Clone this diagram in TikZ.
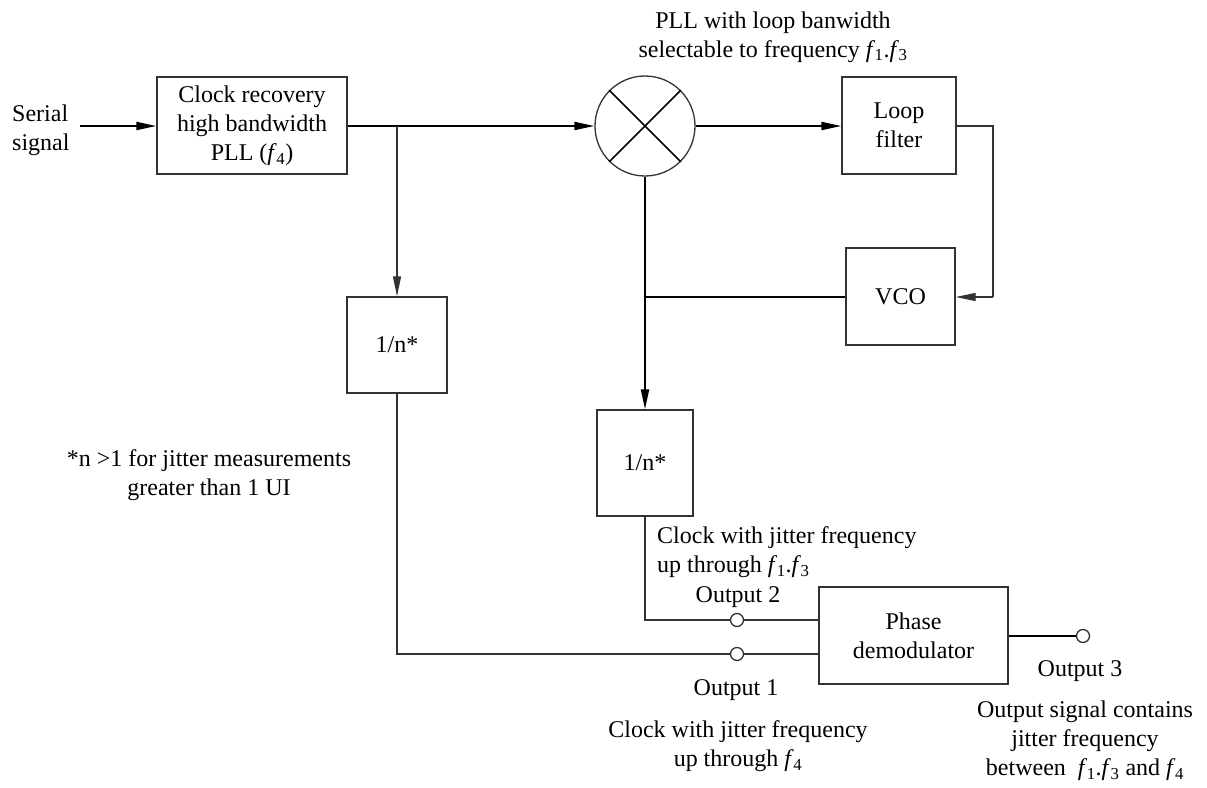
\documentclass[tikz,border=0pt]{standalone}
\usepackage{fontspec}
\setmainfont{Liberation Serif}
\usetikzlibrary{arrows.meta}
\newcommand{\fs}[1]{\textit{f}\kern-0.5pt\textsubscript{#1}}
\tikzset{
  base/.style={font=\fontsize{24}{29}\selectfont},
  blk/.style={draw=black!80, line width=1.3pt, rectangle, inner sep=0pt, base, align=center},
  txt/.style={inner sep=0pt, base, align=center},
  thk/.style={line width=2pt},
  thn/.style={line width=1.3pt, draw=black!80},
  arr/.style={-{Triangle[length=20pt,width=8pt]}},
  term/.style={circle, draw=black!80, line width=1.3pt, minimum size=13pt, inner sep=0pt, fill=white}
}
\begin{document}
\begin{tikzpicture}[x=1pt,y=-1pt]
\useasboundingbox (0,0) rectangle (1207,787);
% blocks
\node[blk, minimum width=190pt, minimum height=97pt] (cr) at (252,125.5) {Clock recovery\\high bandwidth\\PLL (\fs{4})};
\node[circle, draw=black!80, line width=1.3pt, minimum size=100pt, inner sep=0pt] (mx) at (645,126) {};
\draw[line width=1.5pt] (mx.45) -- (mx.225) (mx.135) -- (mx.315);
\node[blk, minimum width=114pt, minimum height=97pt] (lf) at (899,125.5) {Loop\\filter};
\node[blk, minimum width=109pt, minimum height=97pt] (vco) at (900.5,296.5) {VCO};
\node[blk, minimum width=100pt, minimum height=96pt] (d1) at (397,345) {1/n*};
\node[blk, minimum width=96pt, minimum height=106pt] (d2) at (645,463) {1/n*};
\node[blk, minimum width=189pt, minimum height=97pt] (pd) at (913.5,635.5) {Phase\\demodulator};
\node[term] (o2) at (737,620) {};
\node[term] (o1) at (737,654) {};
\node[term] (o3) at (1083,636) {};
% texts
\node[txt, anchor=west, align=left] (ser) at (12,130) {Serial\\signal};
\node[txt] (top) at (773,37) {PLL with loop banwidth\\selectable to frequency \fs{1}.\fs{3}};
\node[txt] (note) at (209,475) {*n >1 for jitter measurements\\greater than 1 UI};
\node[txt, anchor=west, align=left] (c2) at (657,552) {Clock with jitter frequency\\up through \fs{1}.\fs{3}};
\node[txt] (out2) at (738,597) {Output 2};
\node[txt] (out1) at (736,690) {Output 1};
\node[txt] (c1) at (738,746) {Clock with jitter frequency\\up through \fs{4}};
\node[txt] (out3) at (1080,671) {Output 3};
\node[txt] (c3) at (1085,741) {Output signal contains\\jitter frequency\\between~~\fs{1}.\fs{3} and \fs{4}};
% coordinates
\coordinate (sin) at (80,126);
\coordinate (b1) at (397,126);
\coordinate (lr) at (993,126);
\coordinate (vr) at (993,297);
\coordinate (j1) at (645,297);
% connectors
\draw[thk, arr] (sin) -- (cr.west |- sin);
\draw[thk, arr] (cr.east |- sin) -- (mx.west);
\draw[thn, arr] (b1) -- (d1.north);
\draw[thk, arr] (mx.east) -- (lf.west |- mx);
\draw[thn] (lf.east |- lr) -- (lr) -- (vr);
\draw[thn, arr] (vr) -- (vco.east |- vr);
\draw[thk] (vco.west |- j1) -- (j1);
\draw[thk, arr] (mx.south) -- (d2.north);
\draw[thn] (d2.south) |- (o2.west);
\draw[thn] (o2.east) -- (pd.west |- o2);
\draw[thn] (d1.south) |- (o1.west);
\draw[thn] (o1.east) -- (pd.west |- o1);
\draw[thk] (pd.east |- o3) -- (o3.west);
\end{tikzpicture}
\end{document}
